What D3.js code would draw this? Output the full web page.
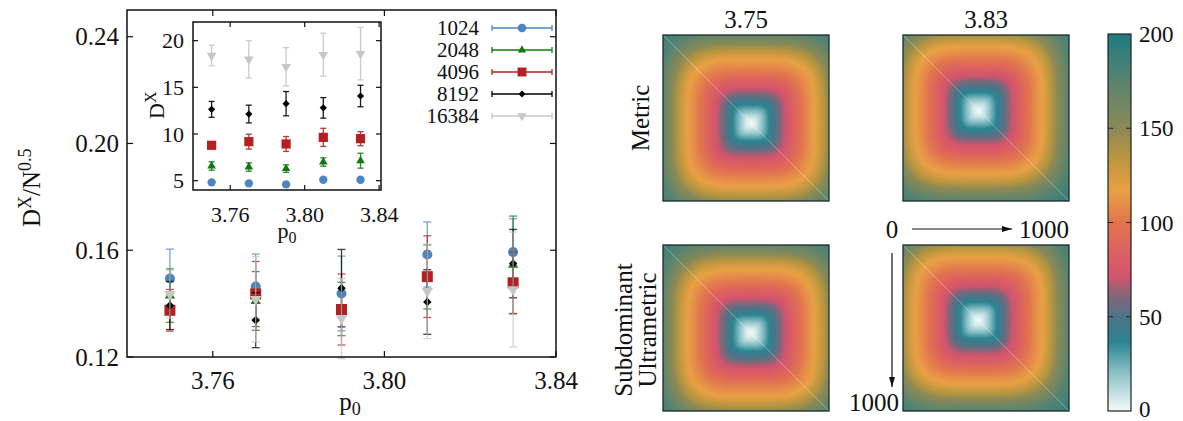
<!DOCTYPE html>
<html>
<head>
<meta charset="utf-8">
<script src="https://cdn.jsdelivr.net/npm/d3@7"></script>
</head>
<body style="margin:0">
<svg id="fig" width="1183" height="421"></svg>
<script>
// data
var p0 = [3.75, 3.77, 3.79, 3.81, 3.83];
var sizes = ["1024", "2048", "4096", "8192", "16384"];
var colors = ["#4a86c4", "#137a13", "#b3201f", "#000000", "#c6c6c6"];

// main panel : D^X / N^0.5
var dxScaled = [
  [0.1494, 0.1464, 0.1438, 0.1584, 0.1593],
  [0.1430, 0.1410, 0.1380, 0.1500, 0.1545],
  [0.1375, 0.1436, 0.1378, 0.1501, 0.1478],
  [0.1393, 0.1338, 0.1458, 0.1406, 0.1550],
  [0.1435, 0.1416, 0.1344, 0.1446, 0.1453]
];
var dxScaledErr = [
  [0.0110, 0.0122, 0.0140, 0.0122, 0.0125],
  [0.0100, 0.0110, 0.0100, 0.0120, 0.0183],
  [0.0078, 0.0122, 0.0133, 0.0153, 0.0115],
  [0.0090, 0.0103, 0.0145, 0.0121, 0.0128],
  [0.0090, 0.0160, 0.0150, 0.0177, 0.0215]
];
// inset : D^X
var dx = [
  [4.82, 4.71, 4.60, 5.10, 5.10],
  [6.57, 6.46, 6.29, 7.00, 7.14],
  [8.79, 9.18, 8.93, 9.64, 9.50],
  [12.64, 12.14, 13.25, 12.80, 14.07],
  [18.4, 18.0, 17.2, 18.5, 18.6]
];
var dxErr = [
  [0.15, 0.15, 0.15, 0.15, 0.15],
  [0.45, 0.45, 0.40, 0.45, 0.80],
  [0.30, 0.80, 0.80, 0.97, 0.75],
  [0.85, 0.95, 1.30, 1.10, 1.15],
  [1.10, 2.00, 2.05, 2.30, 2.80]
];
var mainYTicks = [0.12, 0.16, 0.20, 0.24];
var mainXTicks = [3.76, 3.80, 3.84];
var insetYTicks = [5, 10, 15, 20];
var insetXTicks = [3.76, 3.80, 3.84];

// distance matrices: value against normalised distance from the white centre
var heatTitles = ["3.75", "3.83"];
var heatRows = ["Metric", "Subdominant Ultrametric"];
var heatCentre = [0.53, 0.455];
var ringRadius = [0, 0.07, 0.15, 0.23, 0.31, 0.40, 0.50, 0.60, 0.70, 0.78, 0.88, 0.98, 1.10, 1.30, 1.60];
var ringValue  = [0, 7, 22, 38, 52, 68, 82, 98, 110, 118, 135, 155, 175, 192, 200];
var cbTicks = [0, 50, 100, 150, 200];
var cbStops = [0, 20, 37, 50, 62, 72, 85, 100, 117, 135, 150, 175, 200];
var cbColors = ["#f7fbfb", "#8ec3c8", "#2b8593", "#4b7488", "#886579", "#d3556d", "#dc6160",
                "#e1744f", "#e9a045", "#b9963f", "#8c8a55", "#5a8470", "#1d7b82"];

var FONT = "'Liberation Serif'";
var svg = d3.select("#fig");

var shapes = [
  {type: d3.symbolCircle, rot: 0},
  {type: d3.symbolTriangle, rot: 0},
  {type: d3.symbolSquare, rot: 0},
  {type: d3.symbolSquare, rot: 45},
  {type: d3.symbolTriangle, rot: 180}
];
var mainSize = [80, 45, 121, 36, 55];
var insetSize = [55, 32, 85, 26, 40];
var legendSize = [60, 30, 80, 24, 36];

function label(g, x, y, size, anchor, txt) {
  return g.append("text").attr("x", x).attr("y", y).attr("dy", "0.35em")
    .style("font-family", FONT).attr("font-size", size).attr("fill", "#111")
    .attr("text-anchor", anchor).text(txt);
}

function errorPlot(g, x, y, vals, errs, symSize, cap, barOpacity) {
  vals.forEach(function(series, s) {
    var gs = g.append("g");
    series.forEach(function(v, i) {
      var cx = x(p0[i]), lo = y(v - errs[s][i]), hi = y(v + errs[s][i]);
      var eb = gs.append("g").attr("stroke", colors[s]).attr("stroke-width", 1.3).attr("opacity", barOpacity);
      eb.append("line").attr("x1", cx).attr("x2", cx).attr("y1", lo).attr("y2", hi);
      eb.append("line").attr("x1", cx - cap).attr("x2", cx + cap).attr("y1", lo).attr("y2", lo);
      eb.append("line").attr("x1", cx - cap).attr("x2", cx + cap).attr("y1", hi).attr("y2", hi);
    });
    gs.selectAll("path").data(series).enter().append("path")
      .attr("d", d3.symbol().type(shapes[s].type).size(symSize[s]))
      .attr("transform", function(d, i) { return "translate(" + x(p0[i]) + "," + y(d) + ") rotate(" + shapes[s].rot + ")"; })
      .attr("fill", colors[s]);
  });
}

function frame(g, x, y, xt, yt, tick) {
  var x0 = x.range()[0], x1 = x.range()[1], y0 = y.range()[0], y1 = y.range()[1];
  var t = g.append("g").attr("stroke", "#111").attr("stroke-width", 1.2);
  xt.forEach(function(v) {
    t.append("line").attr("x1", x(v)).attr("x2", x(v)).attr("y1", y0).attr("y2", y0 - tick);
    t.append("line").attr("x1", x(v)).attr("x2", x(v)).attr("y1", y1).attr("y2", y1 + tick);
  });
  yt.forEach(function(v) {
    t.append("line").attr("x1", x0).attr("x2", x0 + tick).attr("y1", y(v)).attr("y2", y(v));
    t.append("line").attr("x1", x1).attr("x2", x1 - tick).attr("y1", y(v)).attr("y2", y(v));
  });
  g.append("rect").attr("x", x0).attr("y", y1).attr("width", x1 - x0).attr("height", y0 - y1)
    .attr("fill", "none").attr("stroke", "#111").attr("stroke-width", 1.5);
}

// ---------- main panel ----------
var xMain = d3.scaleLinear().domain([3.74, 3.84]).range([127, 556]);
var yMain = d3.scaleLinear().domain([0.12, 0.25]).range([357, 10]);
var gMain = svg.append("g");
errorPlot(gMain, xMain, yMain, dxScaled, dxScaledErr, mainSize, 4, 0.75);
frame(gMain, xMain, yMain, mainXTicks, mainYTicks, 6);
mainYTicks.forEach(function(d) { label(gMain, 119, yMain(d), 25, "end", d3.format(".2f")(d)); });
mainXTicks.forEach(function(d) { label(gMain, xMain(d), 380, 25, "middle", d3.format(".2f")(d)); });
var px = label(gMain, 350, 410, 25, "middle", null).attr("dy", null);
px.append("tspan").text("p");
px.append("tspan").attr("font-size", 18).attr("dy", 5).text("0");
var yl = label(gMain, 0, 0, 25, "start", null).attr("dy", null).attr("transform", "translate(40,227) rotate(-90)");
yl.append("tspan").text("D");
yl.append("tspan").attr("font-size", 18).attr("dy", -9).text("X");
yl.append("tspan").attr("dy", 9).text("/N");
yl.append("tspan").attr("font-size", 18).attr("dy", -9).text("0.5");

// ---------- inset ----------
var xIn = d3.scaleLinear().domain([3.74, 3.841]).range([193, 381]);
var yIn = d3.scaleLinear().domain([4, 22]).range([190, 22]);
var gIn = svg.append("g");
gIn.append("rect").attr("x", 193).attr("y", 22).attr("width", 188).attr("height", 168).attr("fill", "#fff");
errorPlot(gIn, xIn, yIn, dx, dxErr, insetSize, 3, 0.9);
frame(gIn, xIn, yIn, insetXTicks, insetYTicks, 5);
insetYTicks.forEach(function(d) { label(gIn, 184, yIn(d), 22, "end", d); });
insetXTicks.forEach(function(d) { label(gIn, xIn(d), 214, 22, "middle", d3.format(".2f")(d)); });
var pxi = label(gIn, 287, 238, 22, "middle", null).attr("dy", null);
pxi.append("tspan").text("p");
pxi.append("tspan").attr("font-size", 16).attr("dy", 5).text("0");
var yli = label(gIn, 0, 0, 22, "start", null).attr("dy", null).attr("transform", "translate(164,119) rotate(-90)");
yli.append("tspan").text("D");
yli.append("tspan").attr("font-size", 16).attr("dy", -8).text("X");

// ---------- legend ----------
var gLeg = svg.append("g");
sizes.forEach(function(lab, s) {
  var yy = 28 + s * 22;
  label(gLeg, 479, yy, 21, "end", lab);
  var l = gLeg.append("g").attr("stroke", colors[s]).attr("stroke-width", 1.3);
  l.append("line").attr("x1", 492).attr("x2", 552).attr("y1", yy).attr("y2", yy);
  l.append("line").attr("x1", 492).attr("x2", 492).attr("y1", yy - 3).attr("y2", yy + 3);
  l.append("line").attr("x1", 552).attr("x2", 552).attr("y1", yy - 3).attr("y2", yy + 3);
  gLeg.append("path").attr("d", d3.symbol().type(shapes[s].type).size(legendSize[s]))
    .attr("transform", "translate(522," + yy + ") rotate(" + shapes[s].rot + ")").attr("fill", colors[s]);
});

// ---------- distance matrices ----------
var colour = d3.scaleLinear().domain(cbStops).range(cbColors).clamp(true);
var profile = d3.scaleLinear().domain(ringRadius).range(ringValue).clamp(true);
var cellSize = 166;
var cellX = [663, 903];
var cellY = [35, 245];
var pw = 4;

function ringPath(cx, cy, r) {
  var pts = d3.range(0, 2 * Math.PI, Math.PI / 60).map(function(t) {
    var c = Math.cos(t), s = Math.sin(t);
    return [cx + r * Math.sign(c) * Math.pow(Math.abs(c), 2 / pw),
            cy + r * Math.sign(s) * Math.pow(Math.abs(s), 2 / pw)];
  });
  return d3.line()(pts) + "Z";
}

var defs = svg.append("defs");
heatRows.forEach(function(row, r) {
  heatTitles.forEach(function(title, c) {
    var x0 = cellX[c], y0 = cellY[r];
    var id = "clip" + r + c;
    defs.append("clipPath").attr("id", id).append("rect")
      .attr("x", x0).attr("y", y0).attr("width", cellSize).attr("height", cellSize);
    var g = svg.append("g").attr("clip-path", "url(#" + id + ")");
    var cx = x0 + heatCentre[c] * cellSize, cy = y0 + heatCentre[c] * cellSize;
    var radii = d3.range(1.6, 0, -0.012);
    g.append("rect").attr("x", x0).attr("y", y0).attr("width", cellSize).attr("height", cellSize)
      .attr("fill", colour(200));
    g.selectAll("path").data(radii).enter().append("path")
      .attr("d", function(d) { return ringPath(cx, cy, d * cellSize / 2); })
      .attr("fill", function(d) { return colour(profile(d)); });
    g.append("line").attr("x1", x0).attr("y1", y0).attr("x2", x0 + cellSize).attr("y2", y0 + cellSize)
      .attr("stroke", "#fff").attr("stroke-opacity", 0.3).attr("stroke-width", 1);
    svg.append("rect").attr("x", x0).attr("y", y0).attr("width", cellSize).attr("height", cellSize)
      .attr("fill", "none").attr("stroke", "#1a2a2a").attr("stroke-width", 1.3);
  });
});
heatTitles.forEach(function(t, c) { label(svg, cellX[c] + cellSize / 2, 19, 25, "middle", t); });
label(svg, 0, 0, 25, "middle", heatRows[0]).attr("transform", "translate(640,118) rotate(-90)");
var ult = heatRows[1].split(" ");
label(svg, 0, 0, 25, "middle", ult[0]).attr("transform", "translate(623,330) rotate(-90)");
label(svg, 0, 0, 25, "middle", ult[1]).attr("transform", "translate(647,330) rotate(-90)");

// index arrows
var mk = defs.append("marker").attr("id", "arrow").attr("viewBox", "0 0 10 6").attr("refX", 10).attr("refY", 3)
  .attr("markerWidth", 10).attr("markerHeight", 6).attr("markerUnits", "userSpaceOnUse").attr("orient", "auto");
mk.append("path").attr("d", "M0,0L10,3L0,6Z").attr("fill", "#111");
svg.append("line").attr("x1", 912).attr("y1", 229).attr("x2", 1012).attr("y2", 229)
  .attr("stroke", "#111").attr("stroke-width", 1.2).attr("marker-end", "url(#arrow)");
svg.append("line").attr("x1", 892).attr("y1", 253).attr("x2", 892).attr("y2", 387)
  .attr("stroke", "#111").attr("stroke-width", 1.2).attr("marker-end", "url(#arrow)");
label(svg, 892, 229, 25, "middle", "0");
label(svg, 1069, 229, 25, "end", "1000");
label(svg, 899, 402, 25, "end", "1000");

// ---------- colour bar ----------
var yCb = d3.scaleLinear().domain([0, 200]).range([411, 34]);
var gCb = svg.append("g");
gCb.selectAll("rect").data(d3.range(0, 200, 1)).enter().append("rect")
  .attr("x", 1108).attr("width", 23)
  .attr("y", function(d) { return yCb(d + 1); }).attr("height", yCb(0) - yCb(1.4))
  .attr("fill", function(d) { return colour(d + 0.5); });
gCb.append("rect").attr("x", 1108).attr("y", 34).attr("width", 23).attr("height", 377)
  .attr("fill", "none").attr("stroke", "#222").attr("stroke-width", 1.2);
cbTicks.slice(1, 4).forEach(function(v) {
  gCb.append("line").attr("x1", 1108).attr("x2", 1113).attr("y1", yCb(v)).attr("y2", yCb(v)).attr("stroke", "#222");
  gCb.append("line").attr("x1", 1131).attr("x2", 1126).attr("y1", yCb(v)).attr("y2", yCb(v)).attr("stroke", "#222");
});
cbTicks.forEach(function(d) { label(gCb, 1139, Math.min(yCb(d), 409), 23, "start", d); });
</script>
</body>
</html>
